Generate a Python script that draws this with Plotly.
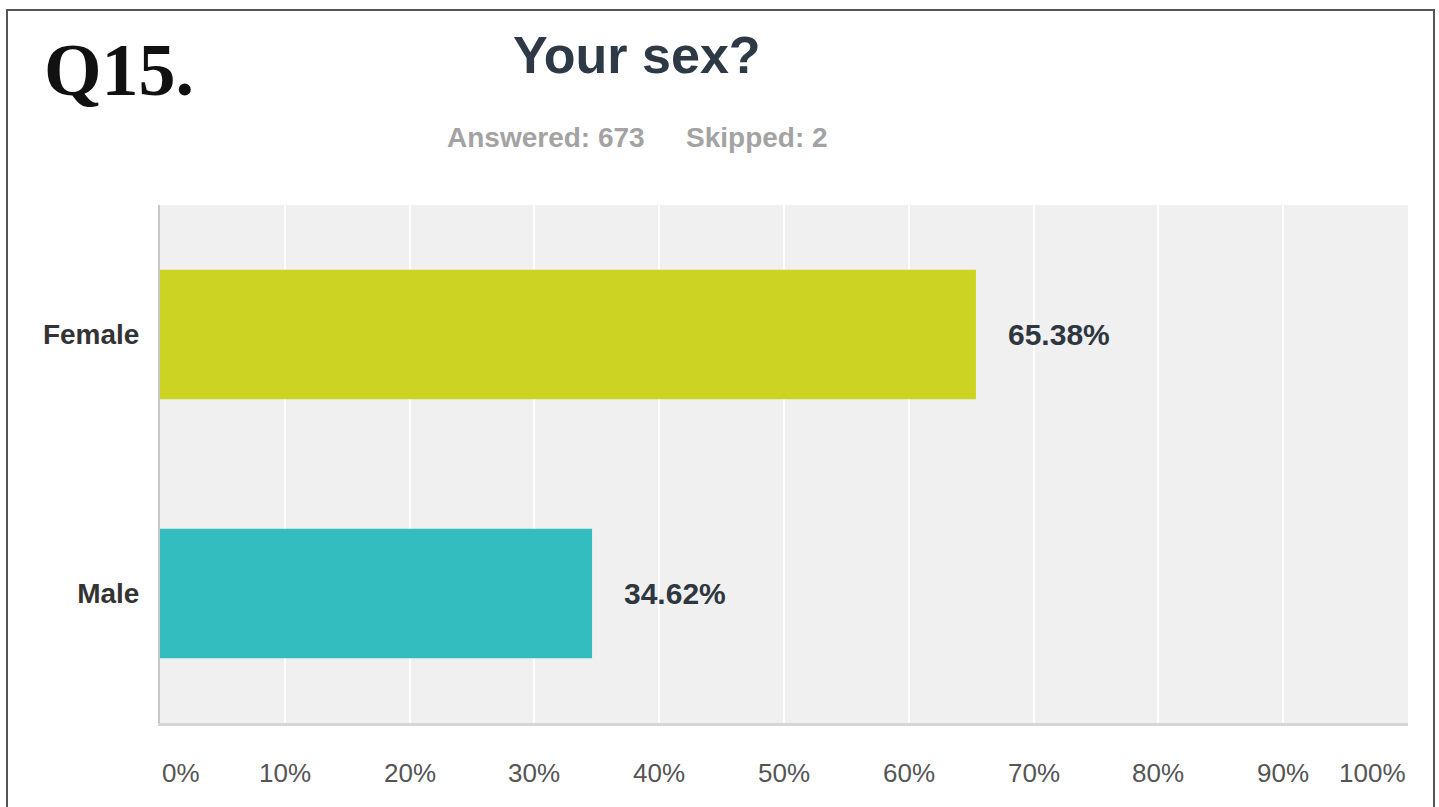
import plotly.graph_objects as go

# Survey question and response counts
question_no = "Q15."
question = "Your sex?"
answered = 673
skipped = 2

# Response shares (percent)
categories = ["Female", "Male"]
shares = [65.38, 34.62]
bar_colors = ["#cdd323", "#33bdbf"]

# Horizontal axis ticks
tick_values = [0, 10, 20, 30, 40, 50, 60, 70, 80, 90, 100]
tick_labels = [f"{v}%" for v in tick_values]

W, H = 1439, 807
ML, MR, MT, MB = 160, 31, 205, 84
PW, PH = W - ML - MR, H - MT - MB


def px_x(p):
    return (p - ML) / PW


def px_y(p):
    return (H - MB - p) / PH


fig = go.Figure(
    go.Bar(
        x=shares,
        y=categories,
        orientation="h",
        marker=dict(color=bar_colors, line=dict(width=0)),
        width=0.5,
        hoverinfo="skip",
    )
)

annotations = []

# Value labels to the right of each bar
for cat, val in zip(categories, shares):
    annotations.append(dict(
        x=val, y=cat, xref="x", yref="y", text=f"<b>{val:.2f}%</b>",
        showarrow=False, xanchor="left", yanchor="middle", xshift=30,
        font=dict(family="Liberation Sans, Arial", size=30, color="#2e3640"),
    ))

# Percent tick labels below the plot (end labels kept inside the plot width)
for v, lab in zip(tick_values, tick_labels):
    anchor = "left" if v == tick_values[0] else ("right" if v == tick_values[-1] else "center")
    annotations.append(dict(
        x=v, y=px_y(773), xref="x", yref="paper", text=lab,
        showarrow=False, xanchor=anchor, yanchor="middle",
        xshift=0,
        font=dict(family="Liberation Sans, Arial", size=26, color="#555555"),
    ))

# Headings
annotations += [
    dict(x=px_x(119), y=px_y(70), xref="paper", yref="paper", text=f"<b>{question_no}</b>",
         showarrow=False, xanchor="center", yanchor="middle",
         font=dict(family="Liberation Serif, Times New Roman", size=74, color="#111111")),
    dict(x=px_x(637), y=px_y(55), xref="paper", yref="paper", text=f"<b>{question}</b>",
         showarrow=False, xanchor="center", yanchor="middle",
         font=dict(family="Liberation Sans, Arial", size=52, color="#2d3945")),
    dict(x=px_x(546), y=px_y(137), xref="paper", yref="paper", text=f"<b>Answered: {answered}</b>",
         showarrow=False, xanchor="center", yanchor="middle",
         font=dict(family="Liberation Sans, Arial", size=28, color="#a3a3a3")),
    dict(x=px_x(757), y=px_y(137), xref="paper", yref="paper", text=f"<b>Skipped: {skipped}</b>",
         showarrow=False, xanchor="center", yanchor="middle",
         font=dict(family="Liberation Sans, Arial", size=28, color="#a3a3a3")),
]

fig.update_layout(
    width=W, height=H,
    margin=dict(l=ML, r=MR, t=MT, b=MB, pad=0),
    paper_bgcolor="white",
    plot_bgcolor="#f0f0f0",
    showlegend=False,
    annotations=annotations,
    shapes=[dict(
        type="rect", xref="paper", yref="paper",
        x0=px_x(7), x1=px_x(1434), y0=px_y(830), y1=px_y(10),
        line=dict(color="#555555", width=2), fillcolor="rgba(0,0,0,0)", layer="above",
    )],
    xaxis=dict(
        range=[0, 100], tickvals=tick_values, showticklabels=False,
        showgrid=True, gridcolor="#ffffff", gridwidth=2, zeroline=False,
        showline=True, linecolor="#d6d6d6", linewidth=3, ticks="",
    ),
    yaxis=dict(
        categoryorder="array", categoryarray=categories[::-1],
        range=[-0.5, 1.5], showgrid=False, zeroline=False,
        showline=True, linecolor="#c8c8c8", linewidth=2, ticks="",
        ticklabelstandoff=13,
        tickfont=dict(family="Liberation Sans, Arial", size=28, color="#333333", weight="bold"),
    ),
)

fig.write_html("out.html")
